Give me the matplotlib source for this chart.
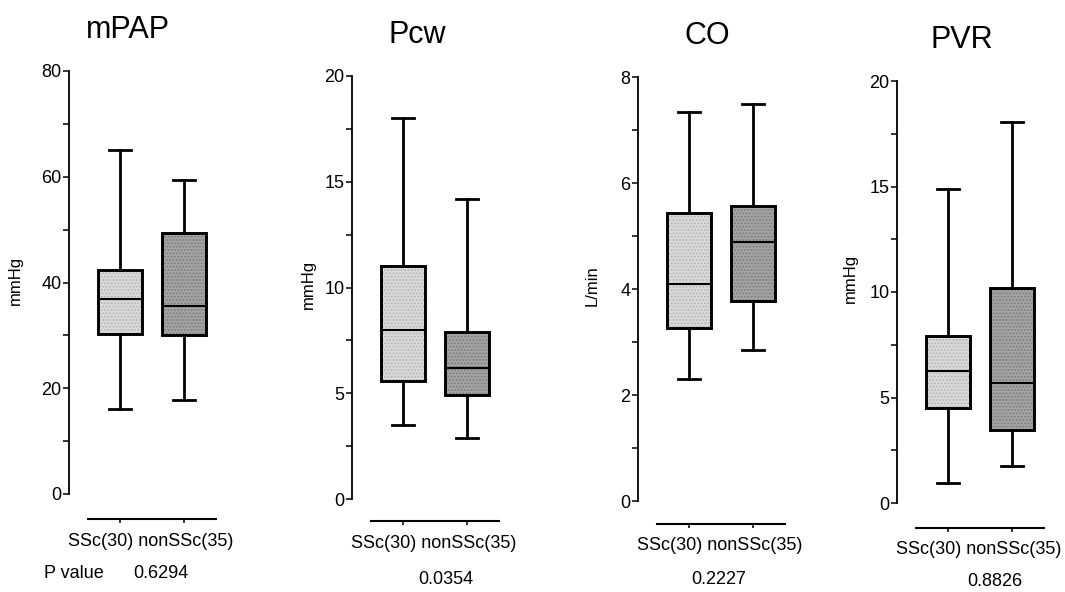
import matplotlib
matplotlib.use("Agg")
import matplotlib.pyplot as plt
from matplotlib.patches import PathPatch
from matplotlib.ticker import MultipleLocator

plt.rcParams['font.family'] = ['Liberation Sans', 'DejaVu Sans']
plt.rcParams['hatch.linewidth'] = 0.9

# ---- data -------------------------------------------------------------
groups = ['SSc(30)', 'nonSSc(35)']
panels = ['mPAP', 'Pcw', 'CO', 'PVR']
units = ['mmHg', 'mmHg', 'L/min', 'mmHg']
y_max = [80, 20, 8, 20]
y_major = [20, 5, 2, 5]
y_minor = [10, 2.5, 1, 2.5]
p_values = ['0.6294', '0.0354', '0.2227', '0.8826']

# five-number summaries: min, Q1, median, Q3, max
mpap_ssc = [16.0, 30.3, 36.9, 42.4, 65.0]
mpap_non = [17.8, 30.0, 35.5, 49.3, 59.3]
pcw_ssc = [3.5, 5.6, 8.0, 11.0, 18.0]
pcw_non = [2.9, 4.9, 6.2, 7.9, 14.2]
co_ssc = [2.3, 3.26, 4.1, 5.43, 7.34]
co_non = [2.85, 3.77, 4.89, 5.57, 7.49]
pvr_ssc = [0.93, 4.5, 6.27, 7.9, 14.87]
pvr_non = [1.73, 3.48, 5.7, 10.2, 18.07]

summaries = [(mpap_ssc, mpap_non), (pcw_ssc, pcw_non),
             (co_ssc, co_non), (pvr_ssc, pvr_non)]

# ---- layout (pixels) --------------------------------------------------
W, H = 1065, 592
axis_left = [69, 352, 638, 897]
axis_zero = [494, 499, 501, 503]
axis_top = [71, 76, 77, 81]
axis_width = 160
title_x = [128, 417, 707, 962]
ylabel_xy = [(15, 280), (308, 284), (592, 286), (850, 278)]
pval_xy = [(161, 573), (446, 579), (719, 580), (995, 582)]
spine_drop = [25, 22, 23, 25]

box_faces = ['#dadada', '#a4a4a4']
box_dots = ['#b4b4b4', '#7c7c7c']

fig = plt.figure(figsize=(W / 100, H / 100), dpi=100)
fig.patch.set_facecolor('white')


def fx(px):
    return px / W


def fy(py):
    return 1 - py / H


for i, name in enumerate(panels):
    left, zero, top = axis_left[i], axis_zero[i], axis_top[i]
    ax = fig.add_axes([fx(left), fy(zero), axis_width / W, (zero - top) / H])
    ax.set_facecolor('none')

    stats = []
    for g, s in zip(groups, summaries[i]):
        stats.append(dict(label=g, whislo=s[0], q1=s[1], med=s[2],
                          q3=s[3], whishi=s[4], fliers=[]))

    res = ax.bxp(stats, positions=[1, 2], widths=0.68, capwidths=0.34,
                 patch_artist=True, showfliers=False,
                 boxprops=dict(linewidth=0),
                 whiskerprops=dict(color='black', linewidth=2.0),
                 capprops=dict(color='black', linewidth=2.0),
                 medianprops=dict(color='black', linewidth=1.5))
    for box, face, dot in zip(res['boxes'], box_faces, box_dots):
        box.set_facecolor(face)
        box.set_edgecolor(dot)
        box.set_hatch('.....')
        box.set_linewidth(0)
        outline = PathPatch(box.get_path(), transform=box.get_transform(),
                            fill=False, edgecolor='black', linewidth=2.1,
                            zorder=box.get_zorder() + 0.2)
        ax.add_patch(outline)
    for m in res['medians']:
        m.set_zorder(5)

    ax.set_xlim(0.2, 2.7)
    ax.set_ylim(0, y_max[i])

    for side in ('top', 'right'):
        ax.spines[side].set_visible(False)
    ax.spines['left'].set_linewidth(1.3)
    ax.spines['left'].set_bounds(0, y_max[i])
    ax.spines['bottom'].set_position(('outward', spine_drop[i] * 0.72))
    ax.spines['bottom'].set_bounds(0.5, 2.5)
    ax.spines['bottom'].set_linewidth(1.5)

    ax.yaxis.set_major_locator(MultipleLocator(y_major[i]))
    ax.yaxis.set_minor_locator(MultipleLocator(y_minor[i]))
    ax.tick_params(axis='y', which='both', direction='out', length=4,
                   width=1.1, labelsize=13, pad=1.5)
    ax.set_xticks([1, 2])
    ax.set_xticklabels([])
    ax.tick_params(axis='x', direction='out', length=3, width=1.1)

    fig.text(fx(title_x[i]), fy(top - 33), name, fontsize=22,
             ha='center', va='baseline')
    lx, ly = ylabel_xy[i]
    fig.text(fx(lx), fy(ly), units[i], fontsize=12, rotation=90,
             ha='center', va='center')
    fig.text(fx(left + 82), fy(zero + spine_drop[i] + 22), ' '.join(groups),
             fontsize=13, ha='center', va='center')
    px, py = pval_xy[i]
    fig.text(fx(px), fy(py), p_values[i], fontsize=13, ha='center',
             va='center')

fig.text(fx(44), fy(pval_xy[0][1]), 'P value', fontsize=13, ha='left',
         va='center')

fig.savefig('out.png', dpi=100, facecolor='white')
